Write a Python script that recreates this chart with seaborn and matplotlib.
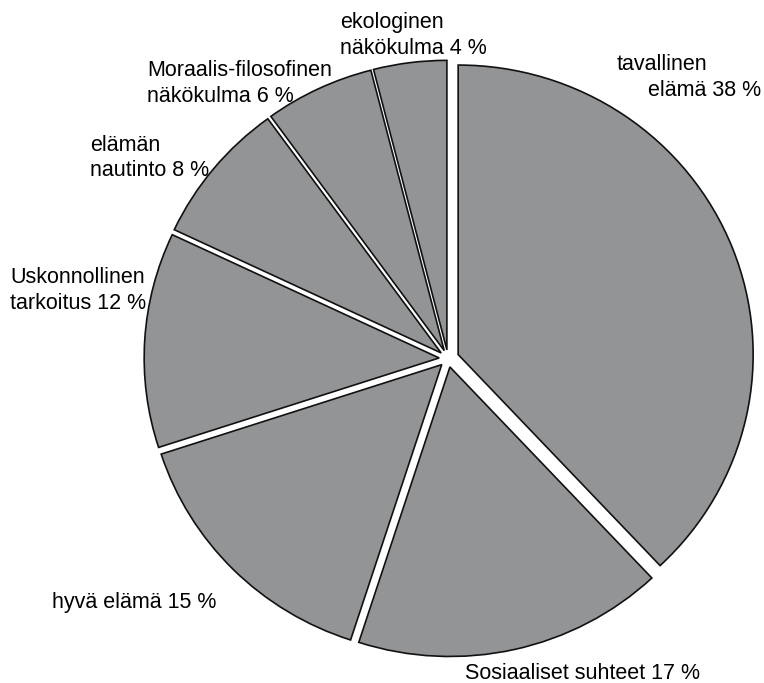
import matplotlib
matplotlib.use("Agg")
import matplotlib.pyplot as plt
import seaborn as sns

# Data
labels = ["tavallinen\nelämä 38 %", "Sosiaaliset suhteet 17 %", "hyvä elämä 15 %",
          "Uskonnollinen\ntarkoitus 12 %", "elämän\nnautinto 8 %",
          "Moraalis-filosofinen\nnäkökulma 6 %", "ekologinen\nnäkökulma 4 %"]
values = [38, 17, 15, 12, 8, 6, 4]
explode = [0.037, 0.03, 0.03, 0.03, 0.03, 0.03, 0.03]

sns.set_theme(style="white")
plt.rcParams['font.family'] = ['Liberation Sans', 'DejaVu Sans']

W, H = 764, 683
fig = plt.figure(figsize=(W / 100, H / 100), dpi=100)
ax = fig.add_axes([0, 0, 1, 1])

gray = "#939496"
ax.pie(values, explode=explode, startangle=90, counterclock=False, radius=1,
       colors=[gray] * len(values),
       wedgeprops=dict(edgecolor="#111111", linewidth=1.2))

# map pie into pixel layout (slightly elliptical like reference)
cx, cy, rx, ry = 448, 358.5, 295, 289.5
ax.set_aspect('auto')
ax.set_xlim(-cx / rx, (W - cx) / rx)
ax.set_ylim(-(H - cy) / ry, cy / ry)
ax.set_axis_off()

# label positions (pixel: left x of each line, center y of first line)
label_pos = [((617, 648), 62), ((465,), 671), ((52,), 600), ((10, 10), 275),
             ((90, 90), 143), ((147, 147), 68), ((340, 340), 20)]
line_gap = 25.5
fs = 15.5
for lab, (pxs, py) in zip(labels, label_pos):
    for i, line in enumerate(lab.split("\n")):
        fig.text(pxs[i] / W, 1 - (py + i * line_gap) / H, line, fontsize=fs,
                 color="black", ha='left', va='center_baseline',
                 transform=fig.transFigure)

fig.savefig("out.png", dpi=100)
